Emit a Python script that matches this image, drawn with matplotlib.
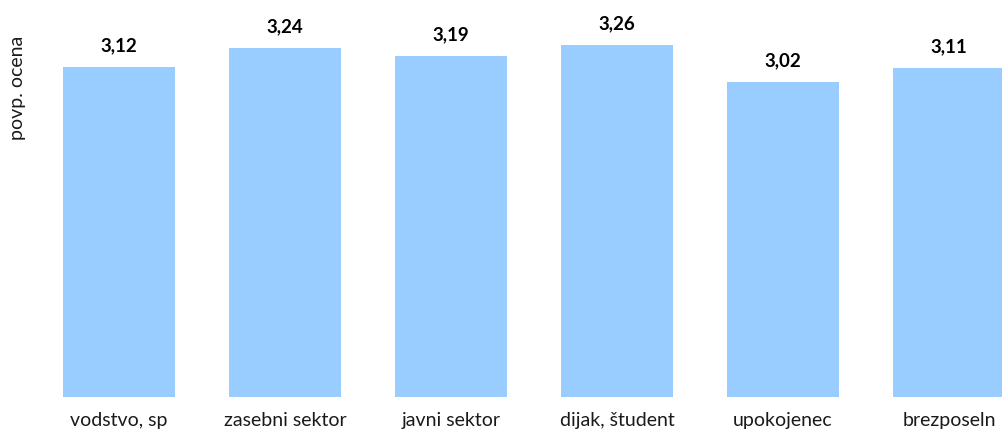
import numpy as np
import matplotlib
matplotlib.use('Agg')
import matplotlib.pyplot as plt

categories = ['vodstvo, sp', 'zasebni sektor', 'javni sektor', 'dijak, študent', 'upokojenec', 'brezposeln']
values = [3.12, 3.24, 3.19, 3.26, 3.02, 3.11]
value_labels = ['3,12', '3,24', '3,19', '3,26', '3,02', '3,11']

plt.rcParams['font.family'] = ['Lato', 'DejaVu Sans']

W, H = 1003, 435
fig = plt.figure(figsize=(W / 100, H / 100), dpi=100)
# axes run past the right edge, as in the original (last bar cut off)
ax = fig.add_axes([36 / W, 37 / H, 996 / W, 398 / H])

x = np.arange(len(categories))
ax.bar(x, [v - 1 for v in values], bottom=1, width=0.675, color='#99CCFF')
ax.set_xlim(-0.5, len(categories) - 0.5)
ax.set_ylim(1, 3.555)

for xi, v, lab in zip(x, values, value_labels):
    ax.annotate(lab, (xi, v), xytext=(0, 10), textcoords='offset points',
                ha='center', va='bottom', fontsize=13.5, fontweight='bold')

ax.set_xticks(x)
ax.set_xticklabels(categories, fontsize=14, color='#1a1a1a')
ax.tick_params(axis='x', length=0, pad=10)
ax.set_yticks([])
for s in ax.spines.values():
    s.set_visible(False)

fig.text(18 / W, 1 - 88 / H, 'povp. ocena', rotation=90, ha='center', va='center',
         fontsize=14, color='#1a1a1a')

fig.savefig('out.png', dpi=100)
